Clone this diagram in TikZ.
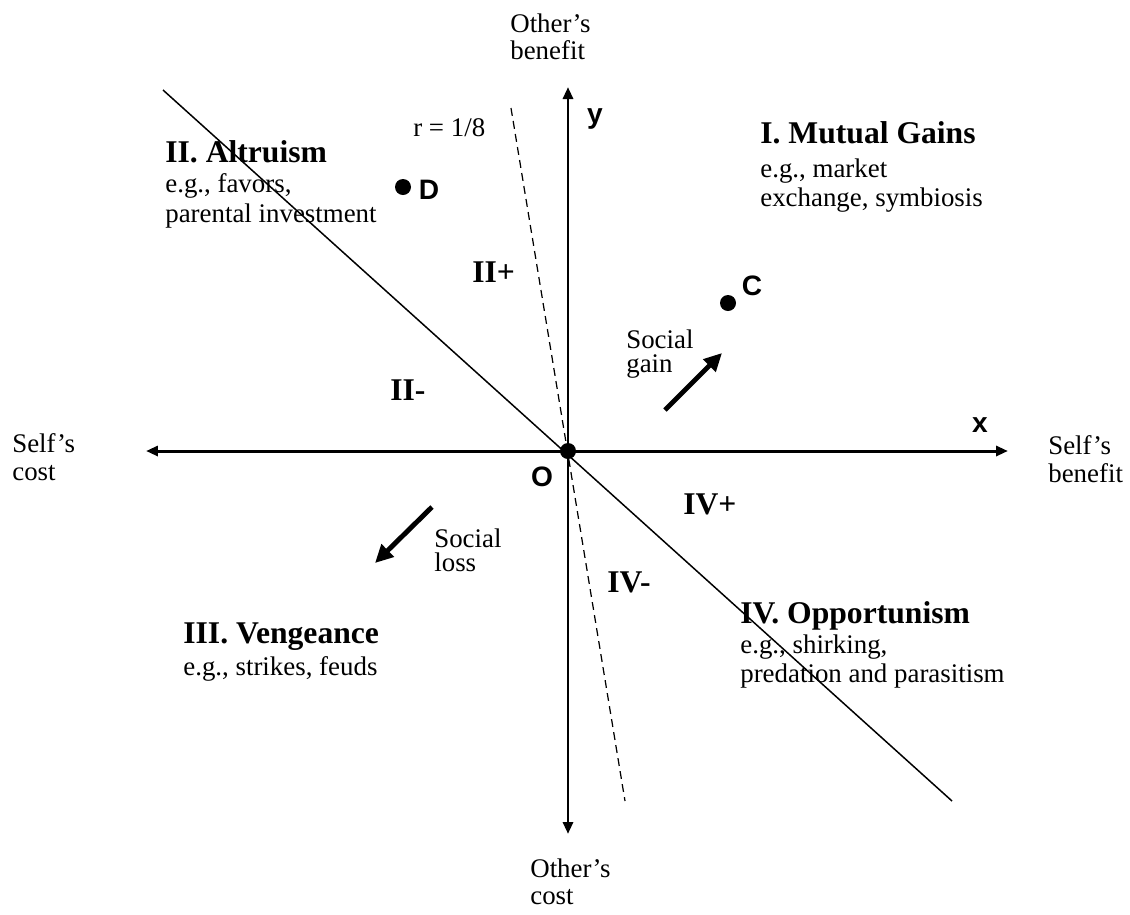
\documentclass[tikz,border=0pt]{standalone}
\usepackage{fontspec}
\setmainfont{Liberation Serif}
\setsansfont{Liberation Sans}
\usetikzlibrary{arrows.meta}

\begin{document}
\begin{tikzpicture}[
 x=0.02cm,y=-0.02cm,
 every node/.style={inner sep=0pt},
 region/.style={font=\fontsize{18}{20}\selectfont\bfseries,anchor=base west},
 note/.style={font=\fontsize{15.3}{17}\selectfont,align=left,anchor=north west},
 pole/.style={font=\fontsize{15.3}{15.9}\selectfont,align=left,anchor=north west},
 social/.style={font=\fontsize{15.3}{14.2}\selectfont,align=left,anchor=north west},
 letter/.style={font=\fontsize{16}{18}\selectfont\sffamily\bfseries,anchor=base},
 dot/.style={circle,fill=black,minimum size=0.32cm},
 axis/.style={line width=1.7pt,{Triangle[length=2.4mm,width=2mm]}-{Triangle[length=2.4mm,width=2mm]}},
 split/.style={line width=0.85pt},
 ratio/.style={line width=0.7pt,dash pattern=on 4.5pt off 3pt},
 move/.style={line width=2.8pt,-{Triangle[length=3.6mm,width=3.4mm]}}
]
\useasboundingbox (0,0) rectangle (1130,914);

% axis ends and guide lines
\coordinate (selfcost) at (146,451);
\coordinate (selfbenefit) at (1008,451);
\coordinate (otherbenefit) at (568,87);
\coordinate (othercost) at (568,834);
\coordinate (splittop) at (163,90);
\coordinate (splitbot) at (952,801);
\coordinate (ratiotop) at (511,108);
\coordinate (ratiobot) at (625,801);
\coordinate (gaintail) at (665,410);
\coordinate (gaintip) at (722,353);
\coordinate (losstail) at (432,507);
\coordinate (losstip) at (375,563);

\draw[split] (splittop) -- (splitbot);
\draw[ratio] (ratiotop) -- (ratiobot);
\draw[axis] (selfcost) -- (selfbenefit);
\draw[axis] (othercost) -- (otherbenefit);
\node[dot] (O) at (568,451) {};
\node[dot] (D) at (403,187) {};
\node[dot] (C) at (728,303) {};

% axis labels
\node[pole] (obenefit) at (510,13) {Other's\\benefit};
\node[pole] (ocost) at (530,858) {Other's\\cost};
\node[pole] (scost) at (12,433) {Self's\\cost};
\node[pole] (sbenefit) at (1048,435) {Self's\\benefit};
\node[letter] (xlab) at (980,432) {x};
\node[letter] (ylab) at (595,123) {y};
\node[letter] (olab) at (542,486) {O};
\node[letter] (clab) at (752,295) {C};
\node[letter] (dlab) at (429,199) {D};
\node[note,anchor=base west] (rlab) at (413,136) {r = 1/8};

% quadrants
\node[region] (mutual) at (760,143) {I. Mutual Gains};
\node[note] (mutualeg) at (760,158) {e.g., market\\exchange, symbiosis};
\node[region] (altruism) at (165,162) {II. Altruism};
\node[note] (altruismeg) at (165,173) {e.g., favors,\\parental investment};
\node[region] (vengeance) at (183,643) {III. Vengeance};
\node[note,anchor=base west] (vengeanceeg) at (183,675) {e.g., strikes, feuds};
\node[region] (opport) at (740,623) {IV. Opportunism};
\node[note] (opporteg) at (740,634) {e.g., shirking,\\predation and parasitism};
\node[region] (twoplus) at (472,282) {II+};
\node[region] (twominus) at (390,400) {II-};
\node[region] (fourplus) at (683,514) {IV+};
\node[region] (fourminus) at (607,592) {IV-};

% social gain and loss
\draw[move] (gaintail) -- (gaintip);
\node[social] (gain) at (626,329) {Social\\gain};
\draw[move] (losstail) -- (losstip);
\node[social] (loss) at (434,528) {Social\\loss};
\end{tikzpicture}
\end{document}
